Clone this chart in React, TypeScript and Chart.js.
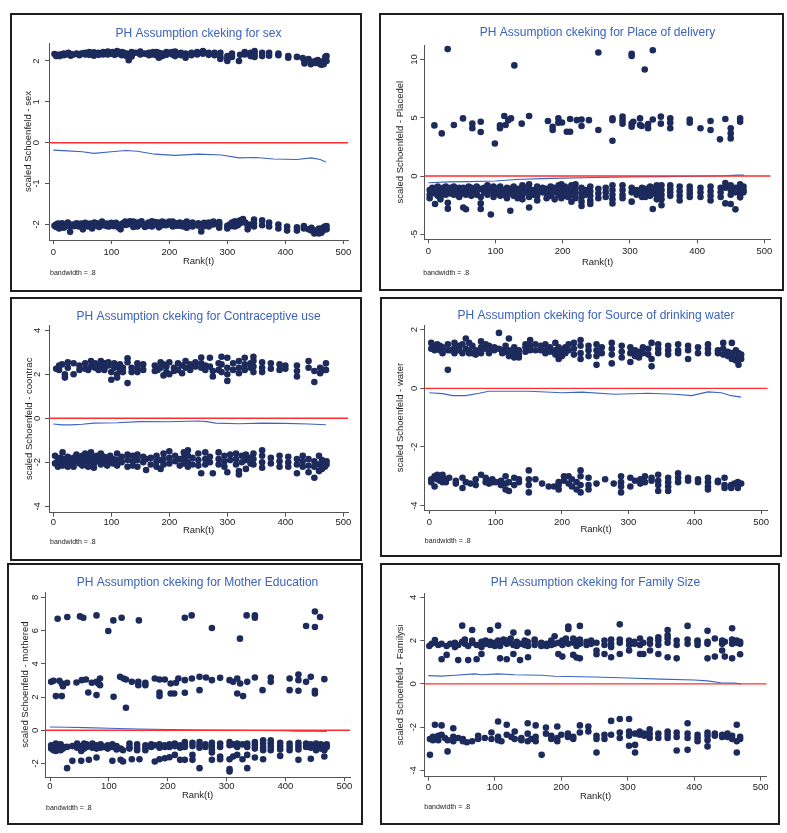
import React, { useEffect, useRef } from "react";
import { Chart, registerables } from "chart.js";

Chart.register(...registerables);

// ---------- DATA ----------
// Residual stacks: each entry is [rank, value, value, ...] (points sharing one rank)
const xTickValues = [0, 100, 200, 300, 400, 500];

// Panel 1: sex
const sexUpper = [
  [2, 2.17], [5, 2.15, 2.12], [8, 2.13], [11, 2.12, 2.16], [14, 2.15], [18, 2.18, 2.14], [22, 2.16], [26, 2.2],
  [30, 2.17, 2.13], [35, 2.16], [40, 2.18], [45, 2.17, 2.14], [50, 2.19], [55, 2.2, 2.16], [58, 2.17], [62, 2.22, 2.15],
  [66, 2.19], [70, 2.21, 2.13], [74, 2.18], [78, 2.2, 2.15], [82, 2.17], [86, 2.22, 2.16], [90, 2.19], [94, 2.16, 2.23],
  [98, 2.2], [102, 2.17, 2.22], [106, 2.15], [110, 2.24, 2.18], [114, 2.19], [118, 2.14, 2.22], [122, 2.2],
  [126, 2.12, 2.18], [130, 2.02], [135, 2.22, 2.15, 2.11], [142, 2.2], [150, 2.23, 2.16], [158, 2.18], [165, 2.2, 2.14],
  [172, 2.22, 2.16], [178, 2.14, 2.22], [182, 2.2, 2.08], [188, 2.18, 2.12], [195, 2.22, 2.15], [200, 2.2],
  [205, 2.16, 2.22], [210, 2.23, 2.12], [215, 2.18], [220, 2.2, 2.14], [228, 2.08, 2.18], [238, 2.2, 2.14],
  [248, 2.22, 2.16], [258, 2.24, 2.18], [268, 2.2, 2.15], [278, 2.14, 2.2], [288, 2.2, 2.1, 2.05], [300, 2.05, 2.0, 2.12],
  [308, 2.18, 2.1], [320, 2.0], [322, 2.15], [330, 2.22, 2.16], [340, 2.2, 2.12], [347, 2.24, 2.16, 2.1], [360, 2.2, 2.12],
  [372, 2.2, 2.13], [388, 2.18, 2.14], [405, 2.12, 2.08], [420, 2.1], [430, 2.07], [433, 1.98, 1.94], [440, 2.05],
  [444, 1.92, 1.97], [448, 1.98], [452, 1.95, 2.0], [456, 2.02], [459, 1.93], [462, 1.96, 1.91], [466, 1.92, 2.0],
  [469, 2.06, 2.1], [471, 2.0, 2.12],
];
const sexLower = [
  [2, -2.03], [5, -2.0, -2.06], [8, -1.98], [10, -2.1], [12, -2.05, -1.99], [15, -1.97], [18, -2.08], [22, -2.0, -2.04],
  [25, -1.95], [29, -2.18, -2.04], [33, -2.0], [36, -2.04], [40, -1.97, -2.03], [44, -2.05], [48, -1.98],
  [51, -2.12, -2.02], [55, -1.96], [60, -2.05, -1.99], [64, -1.98], [67, -2.1, -2.03], [71, -1.95], [75, -2.03, -1.97],
  [79, -2.06], [84, -1.93, -2.02], [88, -2.02], [92, -1.98, -2.04], [96, -2.05], [100, -2.0, -1.96], [104, -2.04],
  [108, -1.96, -2.02], [112, -2.07], [116, -2.12, -2.0], [120, -1.97], [124, -1.93, -2.01], [128, -2.0],
  [132, -1.92, -1.98], [138, -2.0, -1.93, -2.06], [145, -2.05, -1.95], [152, -1.92, -2.0], [158, -2.0, -2.06],
  [164, -1.95, -2.03], [170, -2.05, -1.92], [176, -2.0, -1.94], [182, -1.95, -2.07], [188, -1.93, -2.02],
  [194, -2.02, -1.96], [200, -2.0, -1.93], [206, -1.93, -2.05], [212, -1.97, -2.03], [218, -2.03, -1.95],
  [224, -2.05, -1.97], [230, -1.93, -2.02, -2.08], [240, -1.95, -2.05], [250, -1.97, -2.03], [255, -2.17],
  [260, -2.04, -1.96], [268, -1.95, -2.05], [276, -1.93, -2.0], [286, -2.0, -2.08, -1.94], [300, -2.1, -2.03], [304, -2.0],
  [308, -1.95, -2.04], [313, -2.05, -1.92], [318, -2.02], [322, -1.9, -1.97], [327, -1.87, -1.94], [331, -1.95],
  [335, -2.12, -2.03], [339, -2.0], [346, -1.88, -1.97, -2.05], [360, -1.9, -2.02], [372, -1.95, -2.05], [388, -2.0, -2.1],
  [403, -2.05, -2.15], [420, -2.07, -2.15], [432, -2.1, -2.04], [440, -2.12], [445, -2.15, -2.08], [450, -2.22, -2.14],
  [455, -2.18], [458, -2.1, -2.22], [462, -2.2], [465, -2.15, -2.08], [468, -2.05], [471, -2.12, -2.04],
];
const sexSmooth = [
  [0, -0.18], [25, -0.2], [50, -0.22], [70, -0.26], [100, -0.22], [125, -0.19], [145, -0.21], [175, -0.28], [210, -0.31],
  [250, -0.28], [290, -0.3], [320, -0.37], [350, -0.36], [380, -0.4], [420, -0.41], [445, -0.37], [460, -0.41], [470, -0.47],
];

// Panel 2: Place of delivery
const placeUpper = [
  [28.8, 10.9], [253, 10.6], [302.6, 10.5, 10.3], [334, 10.8], [128, 9.5], [322, 9.15],
  [9, 4.35], [20, 3.66], [38, 4.38], [51.6, 4.95], [65.5, 4.5, 4.1], [78, 4.66, 3.78], [99, 2.8], [106.6, 4.1, 4.35],
  [113, 5.15], [115, 4.38], [119, 4.8], [123, 4.95], [139, 4.5], [150, 5.15], [178, 4.72], [185, 4.23, 3.95],
  [193.5, 4.95, 4.58], [199, 4.6], [206, 3.8], [211, 3.8, 4.9], [221, 4.8], [228, 4.3, 4.86], [239, 4.8], [253, 3.95],
  [274, 4.95, 4.8, 3.03], [289, 5.1, 4.5, 4.8], [302.6, 4.23, 4.5], [305, 4.66], [315, 4.95, 4.38], [317.5, 4.3],
  [327, 4.1, 4.46], [334, 4.86], [346, 5.1, 4.5], [360, 4.95, 4.58, 4.1], [389, 4.86, 4.58], [405, 4.1], [420, 4.72, 3.95],
  [434, 3.15], [442, 4.9], [450, 4.1, 3.66, 3.23], [464, 4.95, 4.66],
];
const placeLower = [
  [2, -1.2, -1.6, -1.9], [6, -1.0, -1.4], [10, -1.1, -1.5, -2.4], [14, -0.9, -1.3, -1.7], [18, -1.2, -1.8, -2.0],
  [22, -1.0, -1.4], [26, -0.9, -1.3, -1.6], [29, -1.1, -2.3, -2.8], [33, -1.0, -1.5], [38, -0.9, -1.2, -1.6],
  [42, -1.1, -1.4], [46, -1.0, -1.3, -1.8], [50, -1.2, -1.5], [52, -2.7, -1.0], [56, -1.1, -1.6, -2.85], [60, -0.9, -1.3],
  [64, -1.0, -1.4, -1.7], [68, -1.2, -1.5], [72, -0.9, -1.3, -1.6], [78, -1.1, -1.8, -2.35, -2.83], [83, -1.0, -1.4],
  [88, -0.8, -1.2, -1.6], [93, -1.0, -1.3, -3.3], [97, -0.9, -1.4, -1.8], [102, -1.1, -1.5], [107, -0.9, -1.3, -1.7],
  [112, -1.2, -1.6], [117, -1.0, -1.4, -1.9], [122, -1.1, -1.5, -2.98], [127, -0.9, -1.3, -1.7], [133, -1.1, -1.5, -1.9],
  [140, -0.8, -1.2, -1.6, -2.0], [146, -1.0, -1.4], [150, -0.7, -1.1, -1.5, -1.8, -2.7], [156, -1.2, -1.6],
  [162, -0.9, -1.3, -1.7, -2.1], [170, -1.0, -1.4], [176, -1.1, -1.5, -1.9], [182, -0.9, -1.3, -1.7], [188, -1.0, -1.4, -2.0],
  [194, -0.8, -1.2, -1.6], [198, -0.7, -1.1, -1.5, -1.9], [203, -0.9, -1.3, -1.7], [208, -1.0, -1.4, -1.8],
  [213, -0.8, -1.2, -1.6, -2.2], [219, -0.7, -1.1, -1.5, -1.9], [228, -1.0, -1.4, -1.8, -2.2, -2.57], [234, -1.2, -1.6],
  [241, -0.9, -1.3, -1.7, -2.1, -2.4], [253, -1.1, -1.5, -1.9], [264, -1.0, -1.4, -1.8], [274, -0.8, -1.2, -1.6, -2.0, -2.35],
  [289, -0.8, -1.2, -1.6, -1.9], [302.6, -1.0, -1.4, -2.2], [310, -1.2, -1.6], [318, -1.0, -1.4, -1.8], [323, -1.1, -1.5, -1.8],
  [330, -0.9, -1.3, -1.7], [334, -1.0, -1.5, -2.83], [340, -0.8, -1.2, -1.6, -2.0], [347, -0.8, -1.2, -1.6, -2.0, -2.5],
  [360, -0.8, -1.1, -1.4, -1.7], [374, -0.9, -1.3, -1.7, -2.1], [389, -0.9, -1.2, -1.5, -1.8], [405, -1.0, -1.4, -1.8],
  [420, -0.9, -1.3, -1.7, -2.1], [435, -1.0, -1.4, -1.8], [442, -0.6, -1.0, -2.35], [450, -0.8, -1.2, -1.6, -2.4],
  [457, -1.0, -1.4, -2.86], [464, -0.7, -1.1, -1.5, -1.83], [469, -0.9, -1.2, -1.4],
];
const placeSmooth = [
  [0, -0.57], [30, -0.5], [60, -0.48], [100, -0.42], [130, -0.3], [170, -0.22], [200, -0.18], [250, -0.12], [300, -0.07],
  [350, -0.05], [400, -0.02], [440, 0.02], [460, 0.08], [470, 0.08],
];

// Panel 3: Contraceptive use
const contracUpper = [
  [5, 2.25], [10, 2.4, 2.2], [15, 2.45], [20, 2.0, 1.85], [25, 2.55, 2.3], [35, 2.0, 2.5], [45, 2.2, 2.4], [55, 2.5, 2.25],
  [60, 2.2], [65, 2.6, 2.35], [72, 2.3, 2.5], [78, 2.2, 2.4], [82, 2.6, 2.45], [88, 2.3, 2.5, 2.2], [95, 2.4, 2.55],
  [100, 1.75, 2.1], [105, 2.3, 2.5], [110, 1.85, 2.0, 2.4], [115, 2.2, 2.45], [120, 2.3, 2.1], [128, 2.73, 2.55, 1.6],
  [135, 2.3, 2.1], [145, 2.5, 2.3, 2.1], [155, 2.45, 2.2], [175, 2.4, 2.15], [180, 2.2], [185, 2.55, 2.3], [190, 1.95, 2.45],
  [195, 2.1, 2.35], [200, 2.0, 2.55], [208, 2.3, 2.15], [215, 2.5, 2.2], [222, 2.05, 2.4], [228, 2.3, 2.6], [236, 2.2, 2.45],
  [245, 2.35, 2.55], [255, 2.76, 2.5, 2.3], [262, 2.4, 2.2], [270, 2.75, 2.35], [275, 1.9, 2.15], [285, 2.5, 2.2],
  [290, 2.8, 2.45, 2.1], [300, 2.75, 1.7, 2.3, 2.0], [310, 2.5, 2.2], [320, 2.6, 2.3, 2.05], [330, 2.75, 2.45, 2.2],
  [340, 2.5, 2.3], [345, 2.8, 2.6, 2.35, 2.1], [360, 2.55, 2.3, 2.1], [375, 2.5, 2.25], [390, 2.45, 2.2], [400, 2.4, 2.25],
  [420, 2.4, 2.15, 1.9], [440, 2.6, 2.3], [450, 2.15, 1.65], [460, 2.05, 2.3], [466, 2.2], [470, 2.5, 2.2],
];
const contracLower = [
  [3, -1.7, -2.05], [8, -1.9, -2.2], [12, -1.8, -2.0], [16, -1.55, -2.15], [20, -1.85, -2.1], [25, -1.75, -1.95, -2.2],
  [30, -1.9, -2.1], [35, -1.8, -2.0, -2.2], [40, -1.65, -1.9], [45, -1.85, -2.05], [50, -1.7, -1.95, -2.15], [55, -1.6, -1.85],
  [60, -1.75, -2.0, -2.2], [65, -1.55, -1.9], [70, -1.8, -2.05, -2.25], [75, -1.7, -1.95], [82, -1.6, -1.85, -2.1],
  [88, -1.75, -2.0], [93, -1.9, -2.15], [98, -1.7, -1.95], [103, -1.85, -2.05], [110, -1.6, -1.9, -2.15], [118, -1.75, -2.0],
  [128, -1.65, -1.9, -2.2], [137, -1.7, -1.95, -2.15], [145, -1.65, -1.9, -2.2], [155, -1.75, -2.0], [160, -2.35, -1.85],
  [168, -1.8, -2.1], [178, -1.7, -1.95, -2.2], [185, -2.3, -1.9], [190, -1.6, -1.85, -2.1], [200, -1.5, -1.8, -2.05],
  [210, -1.7, -1.95], [218, -1.85, -2.15], [225, -1.55, -1.8, -2.05], [232, -1.45, -1.7, -2.0, -2.2], [240, -1.8, -2.1],
  [250, -1.6, -1.9, -2.15], [255, -2.5], [262, -1.55, -1.85, -2.1], [270, -1.75, -2.0], [275, -2.5], [285, -1.55, -1.85, -2.1],
  [295, -1.7, -1.95, -2.2], [300, -2.45], [305, -1.65, -1.9], [315, -1.6, -1.85, -2.1], [320, -2.4, -2.55], [325, -1.7, -2.0],
  [332, -1.65, -1.9, -2.3], [340, -1.8, -2.05], [345, -1.6, -1.85, -2.1], [360, -1.45, -1.7, -2.0, -2.25], [375, -1.8, -2.05],
  [390, -1.7, -1.95, -2.2], [405, -1.75, -2.0, -2.2], [420, -1.85, -2.1, -2.5], [430, -1.7, -1.95, -2.2],
  [440, -1.85, -2.15, -2.45], [450, -1.95, -2.2, -2.7], [458, -1.7, -2.1, -2.4], [463, -1.9, -2.3], [468, -2.0, -2.2],
  [471, -1.95, -2.1],
];
const contracSmooth = [
  [0, -0.26], [15, -0.3], [30, -0.3], [50, -0.27], [70, -0.22], [110, -0.2], [150, -0.15], [200, -0.16], [250, -0.12],
  [265, -0.15], [280, -0.22], [320, -0.25], [360, -0.22], [400, -0.23], [440, -0.26], [470, -0.29],
];

// Panel 4: Source of drinking water
const waterUpper = [
  [3, 1.55, 1.35], [8, 1.4, 1.3], [12, 1.5, 1.35], [16, 1.3, 1.45], [20, 1.2, 1.4], [28, 0.63, 1.3, 1.5], [32, 1.3],
  [38, 1.2, 1.4, 1.55], [45, 1.3, 1.45], [50, 1.2, 1.5], [55, 1.7, 1.35], [60, 1.3, 1.55, 1.2], [65, 1.2, 1.45],
  [70, 1.3, 1.15], [78, 1.2, 1.4, 1.6], [85, 1.35, 1.5], [90, 1.3, 1.2, 1.45], [98, 1.3, 1.4], [105, 1.89, 1.35],
  [110, 1.3, 1.2], [115, 1.25, 1.45], [120, 1.7, 1.1, 1.3], [128, 1.2, 1.4, 1.05], [135, 1.3, 1.05, 1.15],
  [145, 1.4, 1.5, 1.25], [152, 1.65, 1.3, 1.45], [160, 1.3, 1.5], [168, 1.3, 1.45], [175, 1.3, 1.5, 1.2], [182, 1.4, 1.25],
  [190, 1.55, 1.3, 1.15], [195, 1.0, 1.2, 1.4], [200, 1.3, 1.1], [205, 1.2, 1.4], [210, 1.3, 1.5], [218, 1.55, 1.35, 1.15],
  [228, 1.65, 1.45, 1.2, 1.0], [240, 1.3, 1.1, 1.45], [252, 1.5, 1.3, 1.1, 0.8], [260, 1.2, 1.4],
  [275, 1.55, 1.35, 1.15, 0.85], [290, 1.45, 1.25, 1.05], [303, 1.4, 1.2, 0.9], [310, 1.1, 1.3], [316, 1.05, 1.25],
  [322, 1.2, 1.4], [330, 1.35, 1.15], [335, 1.55, 0.75, 1.0], [345, 1.5, 1.35, 1.2], [360, 1.45, 1.3, 1.15],
  [375, 1.5, 1.3, 1.2], [390, 1.45, 1.3, 1.0], [405, 1.4, 1.2], [420, 1.5, 1.35, 1.2], [435, 1.3, 1.2],
  [443, 1.55, 1.35, 1.15], [450, 1.25, 1.1], [456, 1.55, 1.2, 1.0], [462, 1.3, 1.05, 0.95], [466, 0.8, 1.2], [470, 1.15, 1.0],
];
const waterLower = [
  [3, -3.1, -3.2], [8, -3.0, -3.35], [12, -2.95, -3.1], [16, -3.15, -3.05], [20, -2.95, -3.2], [25, -3.2, -3.1], [30, -3.05],
  [40, -3.15, -3.25], [50, -3.05, -3.4], [55, -3.2], [62, -3.25], [70, -3.1, -3.3], [78, -2.95], [85, -3.05, -3.2],
  [90, -3.15, -3.25], [95, -3.1, -3.2], [100, -3.2], [108, -3.3, -3.15], [115, -3.0, -3.45, -3.25], [120, -3.5, -3.2],
  [128, -3.05, -3.3], [135, -3.1, -3.2], [150, -2.8, -3.1, -3.3, -3.55], [160, -3.1], [170, -3.25], [180, -3.35],
  [188, -3.35], [195, -3.3, -3.2, -3.45], [203, -3.0, -3.15], [210, -3.0, -3.25], [215, -3.1, -3.35], [222, -3.2, -3.45],
  [228, -2.8, -3.0, -3.3, -3.55], [240, -3.05, -3.3, -3.45], [252, -3.25], [265, -3.1], [278, -3.25],
  [289, -3.0, -3.2, -3.35, -3.55], [303, -3.05, -3.35], [310, -3.15], [318, -3.1, -3.25], [325, -3.0, -3.2],
  [335, -3.15, -3.05], [345, -2.95, -3.15, -3.3, -3.5], [360, -3.05, -3.2, -3.35, -3.5], [375, -2.9, -3.05, -3.2],
  [390, -3.05, -3.15], [405, -3.1, -3.2], [420, -3.05, -3.2, -3.35, -3.45], [435, -3.15, -3.2], [445, -3.05, -3.3, -3.4],
  [455, -3.3, -3.4], [460, -3.25], [465, -3.2, -3.4], [470, -3.25],
];
const waterSmooth = [
  [0, -0.15], [20, -0.18], [35, -0.25], [55, -0.25], [75, -0.17], [90, -0.1], [150, -0.1], [200, -0.15], [230, -0.13],
  [280, -0.2], [330, -0.17], [370, -0.2], [395, -0.25], [420, -0.12], [440, -0.15], [455, -0.25], [470, -0.3],
];

// Panel 5: Mother Education
const motherUpper = [
  [13, 6.72], [29.4, 6.82], [51, 6.86], [56.6, 6.78], [79, 6.92], [99, 5.98], [107.6, 6.62], [121.7, 6.78], [151, 6.62],
  [229, 6.78], [240.6, 6.92], [275, 6.16], [322.7, 5.52], [334, 6.92], [348, 6.92, 6.78], [435, 6.28], [450, 6.22, 7.16],
  [458.7, 6.82],
  [2, 2.92], [6, 2.98], [10, 2.06], [16, 2.98], [20, 2.82, 2.06], [22, 2.66], [29, 2.86], [45, 2.88], [54, 3.02], [61, 3.06],
  [65, 2.28], [71, 2.86], [79, 2.92, 2.12], [82, 2.82], [85, 3.12, 2.72], [108, 2.02], [119, 3.22], [125, 3.12],
  [129, 3.06, 1.36], [139, 2.92], [150, 2.92, 2.72], [162, 2.86, 2.72], [178, 3.12], [186, 3.06, 2.28, 2.06], [195, 3.06],
  [205, 2.82, 2.22], [211, 2.22], [214, 2.86], [218, 3.12], [229, 3.02, 2.26], [241, 3.12], [254, 3.22, 2.42], [265, 3.18],
  [275, 3.02], [289, 3.16], [305, 3.02], [311, 2.92], [318, 3.12, 2.22], [323, 2.82], [328, 2.06], [335, 2.92], [348, 3.18],
  [361, 2.42], [375, 3.18, 2.92], [407, 3.12, 2.42], [422, 3.36, 3.02, 2.38], [435, 2.92], [443, 3.22], [450, 2.38, 2.22],
  [466, 3.08],
];
const motherLower = [
  [2, -0.9, -1.1], [6, -1.0, -1.2], [10, -0.8, -1.25], [14, -1.0, -1.15], [18, -0.85, -1.2], [22, -1.0, -1.1],
  [29, -1.0, -2.28], [38, -0.95, -1.84], [46, -0.8, -1.05], [53, -0.95, -1.25, -1.84], [58, -0.8, -1.1], [62, -0.85, -1.0],
  [66, -0.95, -1.78], [72, -0.8, -1.05], [79, -0.9, -1.1, -1.64], [86, -0.85, -1.05], [92, -1.0], [98, -0.9, -1.1],
  [106, -0.85, -1.0, -1.84], [113, -0.95, -1.15], [120, -1.1, -1.78], [124, -1.2, -1.88], [135, -0.8, -1.0, -1.1],
  [139, -1.74], [148, -0.85, -1.05, -1.2], [152, -1.74], [162, -0.9, -1.05, -1.2], [172, -0.85, -1.0], [178, -0.9, -1.88],
  [186, -0.85, -1.05, -1.74], [195, -0.9, -1.0, -1.68], [203, -0.85, -1.0, -1.62], [212, -0.8, -0.95, -1.48],
  [221, -0.9, -1.05, -1.78], [229, -0.7, -0.85, -1.0, -1.78], [242, -0.75, -0.95, -1.48, -1.78],
  [254, -0.7, -0.9, -1.05, -2.28], [264, -0.85, -1.0], [275, -0.75, -0.95, -1.15, -1.34, -1.78],
  [289, -0.8, -1.0, -1.58, -1.74], [305, -0.7, -0.9, -1.74, -2.34, -2.48], [311, -0.85, -1.58], [318, -0.8, -1.0, -1.48],
  [327, -0.85, -1.74], [335, -0.8, -1.0, -1.48, -2.28], [348, -0.7, -0.9, -1.1, -1.64], [362, -0.6, -0.8, -1.0, -1.2, -1.74],
  [375, -0.6, -0.8, -1.0, -1.2], [391, -0.75, -0.95, -1.15, -1.54], [407, -0.8, -1.0, -1.2], [422, -0.75, -0.95, -1.15, -1.78],
  [435, -0.8, -1.0], [443, -0.85, -1.05, -1.72], [452, -0.8, -1.0, -1.2], [460, -0.85, -1.1], [466, -0.9, -1.2, -1.58],
  [470, -0.85, -1.0],
];
const motherSmooth = [
  [0, 0.2], [30, 0.18], [60, 0.16], [100, 0.12], [150, 0.08], [200, 0.05], [250, 0.02], [300, 0.0], [350, -0.01],
  [400, -0.02], [420, -0.05], [450, -0.06], [470, -0.07],
];

// Panel 6: Family Size
const familyUpper = [
  [1.5, 1.75], [5, 1.85], [10, 2.03, 1.9], [15, 1.8], [20, 1.14, 1.85], [27.6, 1.34, 1.75], [33, 1.85], [40, 1.7, 1.9],
  [45, 1.1, 1.8], [51, 2.69, 1.95], [55, 1.85, 2.05], [60, 1.1, 1.75], [66, 2.49, 1.9, 2.0], [72.7, 1.14, 1.8],
  [80, 1.38, 1.7, 1.95], [86, 1.85, 2.0], [93, 2.49, 1.8, 1.95], [100, 1.75, 1.9], [105, 2.69, 2.0, 1.85], [108, 1.18, 1.75],
  [113, 1.95, 2.05], [118, 1.14, 1.85, 2.0], [124, 1.9, 2.1], [128, 1.38, 2.37, 1.8], [133, 1.75, 1.95], [138, 1.1, 1.85],
  [145, 1.8, 2.0], [149.5, 2.37, 1.95], [150, 1.23, 1.75], [160, 1.8, 1.95, 2.05], [170, 1.75, 1.9], [178, 1.85, 1.75],
  [185, 1.8, 2.0], [190, 2.2, 1.85], [195.6, 1.38, 1.9], [201.6, 1.26, 1.8, 2.0], [207, 1.95, 2.1], [210.6, 2.65, 2.54, 1.85],
  [218, 1.34, 2.1, 1.9], [223, 1.22, 2.0, 1.75], [228, 2.68, 1.18, 1.85, 2.05], [238, 1.8, 1.95], [245, 1.85, 2.0],
  [253, 1.54, 1.37, 1.9], [265, 1.38, 1.8, 2.0], [275, 1.23, 1.85, 2.05, 1.7], [288, 2.75, 1.38, 1.9, 2.05],
  [302, 1.54, 1.8, 2.0], [310, 1.85, 1.95], [318.5, 1.38, 1.8, 2.1], [323.5, 1.38, 1.9], [333.5, 1.54, 1.85, 2.05],
  [346, 1.38, 1.8, 2.0, 2.15], [360, 2.49, 1.23, 1.9, 2.1, 2.25], [373.6, 1.18, 1.8, 2.0], [390, 2.68, 1.85, 2.05],
  [405, 1.8, 2.0, 1.95], [420, 2.45, 1.18, 1.85, 1.95], [431, 1.26, 2.1], [442, 1.54, 1.85, 2.0], [446, 1.26, 1.95],
  [457, 2.57, 1.18, 1.85, 2.05], [464, 1.9, 2.0], [469, 1.37, 1.85, 1.95],
];
const familyLower = [
  [2.5, -3.28, -2.55], [7, -2.6, -2.45], [10, -1.89, -2.5], [15, -2.4, -2.6], [20, -1.92, -2.35], [25, -2.5],
  [29, -3.12, -2.6], [37.6, -2.05, -2.45, -2.65], [45, -2.5], [52, -2.55, -2.65], [58, -2.7], [66, -2.65], [75, -2.4, -2.55],
  [85, -2.5], [95, -2.25, -2.55], [105, -1.74, -2.6, -2.45], [110, -2.65], [118, -1.89, -2.35], [125, -2.45],
  [130, -2.2, -2.55], [140, -2.6, -2.5], [149.5, -1.82, -2.3, -2.65], [155, -2.55], [161.5, -1.92, -2.45, -2.65],
  [170.5, -3.28], [177, -2.02, -2.3], [185, -2.4, -2.55], [194, -1.97, -2.5, -2.65], [200, -2.35], [210, -2.3, -2.45],
  [218, -2.55, -2.45], [228, -1.92, -2.25], [240.7, -1.97, -2.2], [253, -2.4, -2.55, -3.17], [265, -2.35, -2.55],
  [275, -1.71, -2.35], [288, -1.62, -2.25, -2.5], [302, -1.62, -2.2, -2.4, -2.86], [311, -2.3, -2.82, -3.17],
  [318, -2.35, -2.2], [325, -2.3, -2.4], [333, -2.1, -2.3, -2.5], [346, -2.3, -2.5], [360, -2.2, -2.35, -2.5],
  [373.6, -2.25, -2.45, -3.08], [390, -1.82, -2.3, -2.5, -3.05], [405, -2.35, -2.5, -2.65], [420, -2.25, -2.4, -2.6, -2.89],
  [431, -2.4, -2.3], [442, -2.35, -2.45], [450, -2.3, -2.45], [457, -2.4, -2.55], [464, -1.89, -2.65, -3.17],
  [469, -2.45, -2.55],
];
const familySmooth = [
  [0, 0.38], [20, 0.36], [40, 0.4], [70, 0.46], [80, 0.42], [105, 0.46], [130, 0.42], [170, 0.4], [190, 0.35], [250, 0.32],
  [300, 0.27], [350, 0.22], [400, 0.18], [420, 0.14], [440, 0.05], [460, 0.04], [470, 0.0],
];

// ---------- LAYOUT / STYLE ----------
const FONT = "'Liberation Sans', Arial, Helvetica, sans-serif";
const POINT_COLOR = "#1c2a5c";
const RED = "#ff2d2d";
const BLUE_LINE = "#3c64c6";
const TITLE_BLUE = "#3a62bd";
const TEXT = "#222222";

interface PanelSpec {
  title: string;
  yTitle: string;
  box: number[]; // outer left, top, right, bottom
  area: number[]; // plot left, top, right, bottom (page coords)
  xRange: number[];
  yRange: number[];
  yTicks: number[];
  stacks: number[][][];
  smooth: number[][];
  yTitleOff: number;
  yTickOff: number;
  xTickOff: number;
  xTitleOff: number;
  titleOff: number;
  noteOff: number;
  noteDx: number;
}

const panels: PanelSpec[] = [
  {
    title: "PH Assumption ckeking for sex", yTitle: "scaled Schoenfeld - sex",
    box: [10, 13, 362, 292], area: [49, 43, 348, 240], xRange: [-7.4, 508], yRange: [-2.38, 2.44],
    yTicks: [-2, -1, 0, 1, 2], stacks: [sexUpper, sexLower], smooth: sexSmooth,
    yTitleOff: 21, yTickOff: 13, xTickOff: 12, xTitleOff: 21, titleOff: 9, noteOff: 33, noteDx: 1,
  },
  {
    title: "PH Assumption ckeking for Place of delivery", yTitle: "scaled Schoenfeld - Placedel",
    box: [379, 13, 784, 291], area: [424.3, 45, 770.7, 239.3], xRange: [-6, 509.5], yRange: [-5.43, 11.25],
    yTicks: [-5, 0, 5, 10], stacks: [placeUpper, placeLower], smooth: placeSmooth,
    yTitleOff: 24, yTickOff: 9.5, xTickOff: 12.4, xTitleOff: 23, titleOff: 12, noteOff: 34, noteDx: -1,
  },
  {
    title: "PH Assumption ckeking for Contraceptive use", yTitle: "scaled Schoenfeld - coontrac",
    box: [10, 297, 362, 561], area: [49, 325, 348, 512.7], xRange: [-7.4, 508], yRange: [-4.29, 4.24],
    yTicks: [-4, -2, 0, 2, 4], stacks: [contracUpper, contracLower], smooth: contracSmooth,
    yTitleOff: 20, yTickOff: 12, xTickOff: 9.5, xTitleOff: 17.5, titleOff: 8.5, noteOff: 29, noteDx: 1,
  },
  {
    title: "PH Assumption ckeking for Source of drinking water", yTitle: "scaled Schoenfeld - water",
    box: [380, 297, 782, 557], area: [424.3, 325, 767.7, 510], xRange: [-7.5, 510], yRange: [-4.15, 2.16],
    yTicks: [-4, -2, 0, 2], stacks: [waterUpper, waterLower], smooth: waterSmooth,
    yTitleOff: 24, yTickOff: 10, xTickOff: 12, xTitleOff: 19, titleOff: 9, noteOff: 31.5, noteDx: 0.5,
  },
  {
    title: "PH Assumption ckeking for Mother Education", yTitle: "scaled Schoenfeld - mothered",
    box: [7, 563, 363, 825], area: [45, 592, 350, 777.3], xRange: [-8.5, 509.6], yRange: [-2.83, 8.33],
    yTicks: [-2, 0, 2, 4, 6, 8], stacks: [motherUpper, motherLower], smooth: motherSmooth,
    yTitleOff: 20, yTickOff: 10, xTickOff: 9.5, xTitleOff: 17.7, titleOff: 9, noteOff: 31, noteDx: 1,
  },
  {
    title: "PH Assumption ckeking for Family Size", yTitle: "scaled Schoenfeld - Familysi",
    box: [380, 563, 780, 825], area: [424.3, 593, 766.7, 776.7], xRange: [-6, 509], yRange: [-4.29, 4.2],
    yTicks: [-4, -2, 0, 2, 4], stacks: [familyUpper, familyLower], smooth: familySmooth,
    yTitleOff: 24, yTickOff: 11, xTickOff: 10.6, xTitleOff: 19.3, titleOff: 10, noteOff: 30, noteDx: 0,
  },
];

function stacksToPoints(groups: number[][][]) {
  const pts: { x: number; y: number }[] = [];
  for (const g of groups) {
    for (const s of g) {
      for (let i = 1; i < s.length; i++) pts.push({ x: s[0], y: s[i] });
    }
  }
  return pts;
}

function Panel({ spec }: { spec: PanelSpec }) {
  const ref = useRef<HTMLCanvasElement | null>(null);
  const [bl, bt, br, bb] = spec.box;
  const cl = bl + 2;
  const ct = bt + 2;
  const cw = br - bl - 4;
  const ch = bb - bt - 4;

  useEffect(() => {
    if (!ref.current) return;
    const [al, at, ar, ab] = spec.area;
    const halfLine = 9.5 * 1.2 / 2;
    const yW = spec.yTitleOff + halfLine;
    const xH = spec.xTitleOff + halfLine;
    const padLeft = al - cl - yW;
    const padTop = at - ct;
    const padRight = cl + cw - ar;
    const padBottom = ct + ch - ab - xH;

    const textPlugin = {
      id: "stataText",
      afterDraw(chart: any) {
        const { ctx, chartArea } = chart;
        const yScale = chart.scales.y;
        ctx.save();
        // panel title
        ctx.fillStyle = TITLE_BLUE;
        ctx.font = `12px ${FONT}`;
        ctx.textAlign = "center";
        ctx.textBaseline = "middle";
        ctx.fillText(spec.title, (chartArea.left + chartArea.right) / 2, chartArea.top - spec.titleOff);
        // rotated y tick labels
        ctx.fillStyle = TEXT;
        ctx.font = `9.5px ${FONT}`;
        for (const v of spec.yTicks) {
          const py = yScale.getPixelForValue(v);
          ctx.save();
          ctx.translate(chartArea.left - spec.yTickOff, py);
          ctx.rotate(-Math.PI / 2);
          ctx.textAlign = "center";
          ctx.textBaseline = "middle";
          ctx.fillText(String(v), 0, 0);
          ctx.restore();
        }
        // bandwidth note
        ctx.font = `7px ${FONT}`;
        ctx.textAlign = "left";
        ctx.textBaseline = "middle";
        ctx.fillText("bandwidth = .8", chartArea.left + spec.noteDx, chartArea.bottom + spec.noteOff);
        ctx.restore();
      },
    };

    const chart = new Chart(ref.current, {
      type: "scatter",
      data: {
        datasets: [
          {
            type: "line",
            data: [{ x: spec.xRange[0], y: 0 }, { x: spec.xRange[1], y: 0 }],
            borderColor: RED,
            borderWidth: 1.4,
            pointRadius: 0,
            order: 0,
          } as any,
          {
            type: "line",
            data: spec.smooth.map((p) => ({ x: p[0], y: p[1] })),
            borderColor: BLUE_LINE,
            borderWidth: 1.1,
            pointRadius: 0,
            tension: 0,
            order: 1,
          } as any,
          {
            data: stacksToPoints(spec.stacks),
            backgroundColor: POINT_COLOR,
            borderWidth: 0,
            pointRadius: 3.3,
            clip: false,
            order: 2,
          } as any,
        ],
      },
      options: {
        animation: false,
        responsive: false,
        maintainAspectRatio: false,
        events: [],
        layout: { padding: { left: padLeft, top: padTop, right: padRight, bottom: padBottom } },
        plugins: { legend: { display: false }, tooltip: { enabled: false } },
        scales: {
          x: {
            type: "linear",
            min: spec.xRange[0],
            max: spec.xRange[1],
            afterBuildTicks: (s: any) => {
              s.ticks = xTickValues.map((v) => ({ value: v }));
            },
            afterFit: (s: any) => {
              s.height = xH;
              s.paddingLeft = 0;
              s.paddingRight = 0;
            },
            grid: { display: true, drawOnChartArea: false, drawTicks: true, tickLength: 4, color: "#555" },
            border: { display: true, color: "#555", width: 1 },
            ticks: {
              font: { family: FONT, size: 9.5 },
              color: TEXT,
              padding: spec.xTickOff - 4 - halfLine,
              maxRotation: 0,
              minRotation: 0,
              autoSkip: false,
              callback: (v: any) => String(v),
            },
            title: { display: true, text: "Rank(t)", font: { family: FONT, size: 9.5 }, color: TEXT, padding: 0 },
          },
          y: {
            type: "linear",
            min: spec.yRange[0],
            max: spec.yRange[1],
            afterBuildTicks: (s: any) => {
              s.ticks = spec.yTicks.map((v) => ({ value: v }));
            },
            afterFit: (s: any) => {
              s.width = yW;
              s.paddingTop = 0;
              s.paddingBottom = 0;
            },
            grid: { display: true, drawOnChartArea: false, drawTicks: true, tickLength: 4, color: "#555" },
            border: { display: true, color: "#555", width: 1 },
            ticks: { display: false },
            title: { display: true, text: spec.yTitle, font: { family: FONT, size: 9.5 }, color: TEXT, padding: 0 },
          },
        },
      } as any,
      plugins: [textPlugin],
    });
    return () => chart.destroy();
  }, []);

  return (
    <div
      style={{
        position: "absolute",
        left: bl,
        top: bt,
        width: br - bl,
        height: bb - bt,
        border: "2px solid #1e1e1e",
        boxSizing: "border-box",
        background: "#ffffff",
      }}
    >
      <canvas ref={ref} width={cw} height={ch} style={{ display: "block", width: cw, height: ch }} />
    </div>
  );
}

export default function App() {
  return (
    <div style={{ position: "absolute", left: 0, top: 0, width: 787, height: 833, background: "#ffffff" }}>
      {panels.map((p, i) => (
        <Panel key={i} spec={p} />
      ))}
    </div>
  );
}
